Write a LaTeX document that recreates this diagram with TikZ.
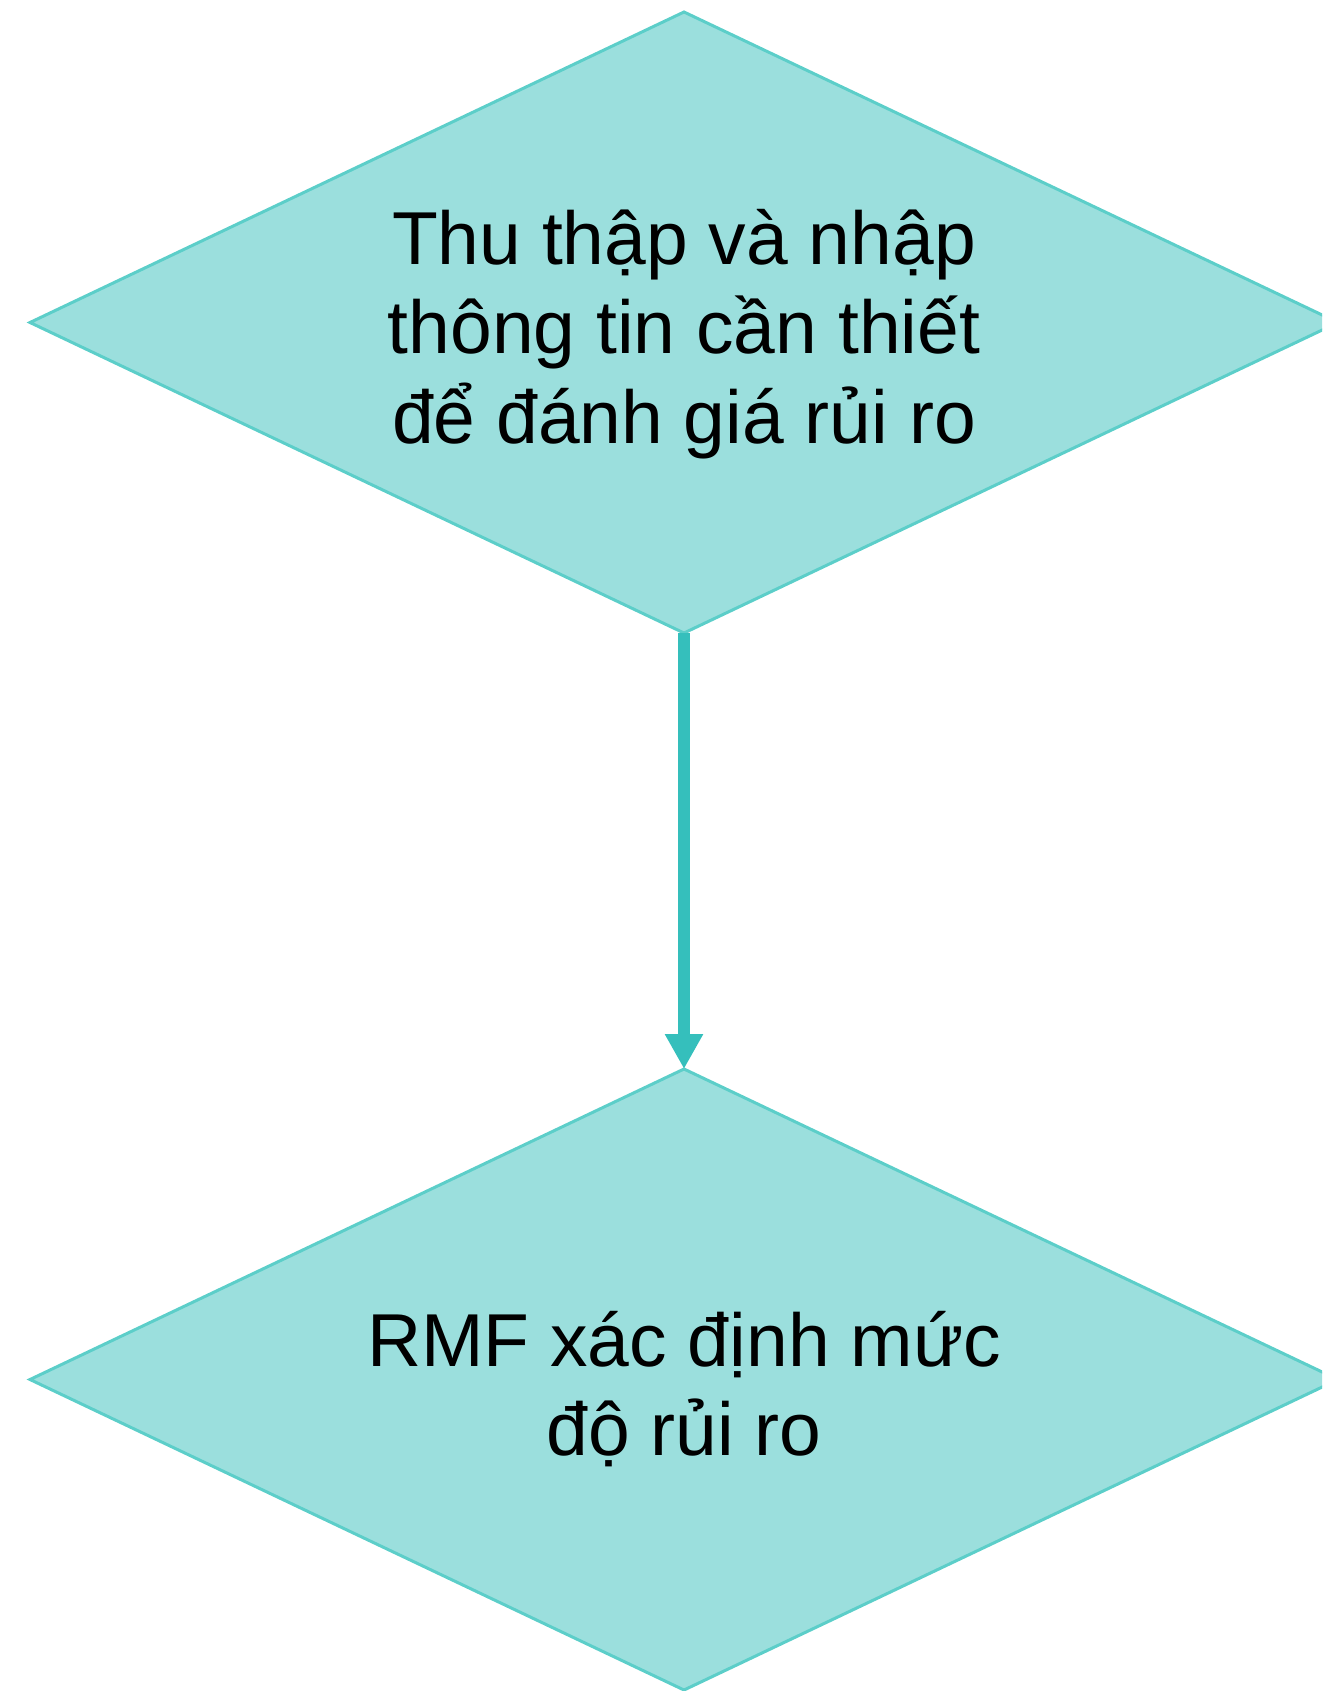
\documentclass[tikz,border=0pt]{standalone}
\usepackage{fontspec}
\setmainfont{Liberation Sans}
\usetikzlibrary{shapes.geometric,arrows.meta}
\definecolor{dfill}{HTML}{9BDFDD}
\definecolor{dline}{HTML}{5CCEC9}
\definecolor{arr}{HTML}{35BFBC}
\tikzset{
  dia/.style={diamond, draw=dline, fill=dfill, line width=3pt, minimum width=1308pt, minimum height=621pt, shape aspect=2.1, inner sep=0pt, outer sep=0pt},
  lbl/.style={align=center, font=\fontsize{75}{89.5}\selectfont, text=black, inner sep=0pt},
  conn/.style={draw=arr, line width=12pt, -{Triangle[width=36pt,length=35pt]}}
}
\begin{document}
\begin{tikzpicture}[x=1pt,y=-1pt]
\useasboundingbox (0,0) rectangle (1322,1691);
\clip (0,0) rectangle (1322,1691);
\node[dia] (d1) at (684,322.5) {};
\node[lbl] (t1) at (684,334) {Thu thập và nhập\\thông tin cần thiết\\để đánh giá rủi ro};
\node[dia] (d2) at (684,1379.5) {};
\node[lbl] (t2) at (684,1389) {RMF xác định mức\\độ rủi ro};
\draw[conn] (d1.south) -- (d2.north);
\end{tikzpicture}
\end{document}
